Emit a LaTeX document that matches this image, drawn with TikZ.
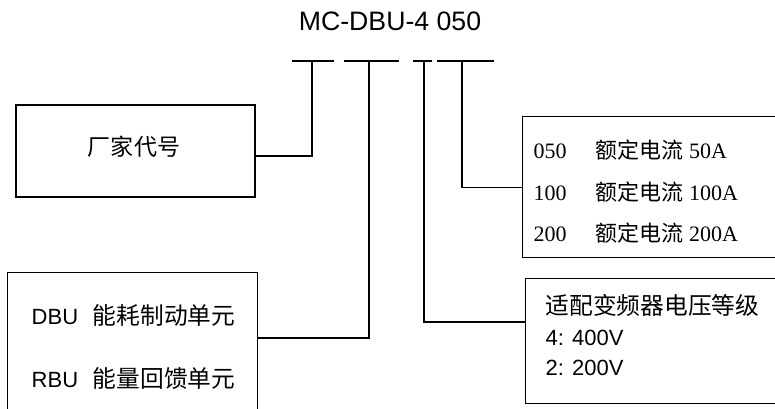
\documentclass[tikz,border=0pt]{standalone}
\usepackage{fontspec}
\setmainfont{Liberation Serif}
\setsansfont{Liberation Sans}
\newfontfamily\cjk{Noto Sans CJK SC}
\usepackage{tikz}
\usetikzlibrary{positioning,calc}

\begin{document}
\begin{tikzpicture}[
    x=0.75pt, y=-0.75pt,
    line width=1.1pt,
    box/.style={draw, inner sep=0pt},
    txt/.style={anchor=west, inner sep=0pt, font=\fontsize{16.5}{20}\selectfont},
    stxt/.style={txt, font=\fontsize{16.5}{20}\selectfont\sffamily},
    bigcjk/.style={font=\fontsize{17.8}{20}\selectfont\cjk}
]
  \clip (0,0) rectangle (775,408);

  \node[font=\fontsize{20}{24}\selectfont\sffamily, inner sep=0pt] (code) at (390,21) {MC-DBU-4 050};

  % underlines below the code
  \coordinate (a1) at (292,61); \coordinate (b1) at (334,61);
  \coordinate (a2) at (344,61); \coordinate (b2) at (399,61);
  \coordinate (a3) at (413,61); \coordinate (b3) at (432,61);
  \coordinate (a4) at (437,61); \coordinate (b4) at (494,61);
  \foreach \i in {1,...,4} {
    \draw (a\i) -- (b\i);
  }
  \coordinate (u1) at (312,61);
  \coordinate (u2) at (369,61);
  \coordinate (u3) at (424,61);
  \coordinate (u4) at (462,61);

  % boxes
  \node[box, minimum width=239*0.75pt, minimum height=92*0.75pt] (maker) at (135.5,151) {};
  \node[font=\fontsize{17.3}{20}\selectfont\cjk] (makertxt) at (134,147) {厂家代号};

  \node[box, minimum width=250*0.75pt, minimum height=160*0.75pt, anchor=north west] (unit) at (7,272) {};
  \node[stxt] (dbu) at (31,315) {DBU\hspace{11pt}{\fontsize{17.8}{20}\selectfont\cjk 能耗制动单元}};
  \node[stxt] (rbu) at (31,378) {RBU\hspace{11pt}{\fontsize{17.8}{20}\selectfont\cjk 能量回馈单元}};

  \node[box, minimum width=280*0.75pt, minimum height=125*0.75pt, anchor=north west] (volt) at (525,278) {};
  \node[txt, bigcjk] (volthead) at (545,305) {适配变频器电压等级};
  \node[stxt] (v4) at (545,338) {4: 400V};
  \node[stxt] (v2) at (545,368) {2: 200V};

  \node[box, minimum width=280*0.75pt, minimum height=141*0.75pt, anchor=north west] (cur) at (522,116) {};
  \node[txt] (c050) at (533,150) {\makebox[46.5pt][l]{050}{\cjk 额定电流} 50A};
  \node[txt] (c100) at (533,192) {\makebox[46.5pt][l]{100}{\cjk 额定电流} 100A};
  \node[txt] (c200) at (533,233) {\makebox[46.5pt][l]{200}{\cjk 额定电流} 200A};

  % leaders
  \draw (u1) |- ($(maker.east)+(0,5)$);
  \draw (u2) |- ($(unit.north east)+(0,66)$);
  \draw (u3) |- ($(volt.north west)+(0,44)$);
  \draw (u4) |- (cur.west);
\end{tikzpicture}
\end{document}
